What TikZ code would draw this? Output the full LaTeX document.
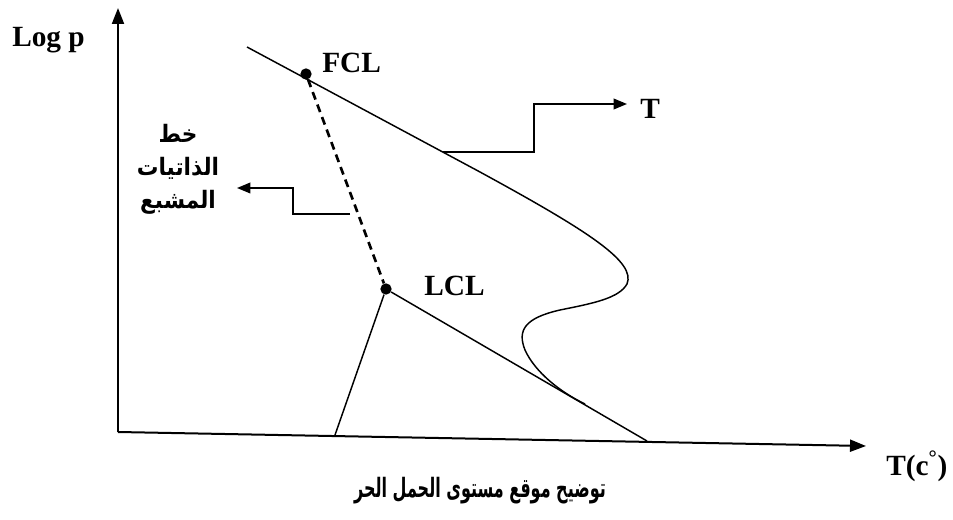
\documentclass[tikz,border=0pt]{standalone}
\usepackage{fontspec}
\setmainfont{Liberation Serif}
\newfontfamily\arabicfont[Script=Arabic]{DejaVu Sans}
\TeXXeTstate=1
\usetikzlibrary{arrows.meta}
\begin{document}
\begin{tikzpicture}[x=0.75pt,y=-0.75pt,
  axis/.style={line width=1.5pt,-{Triangle[length=12pt,width=9pt]}},
  curve/.style={line width=1.1pt},
  conn/.style={line width=1.1pt,-{Triangle[length=10pt,width=8pt]}},
  dot/.style={circle,fill=black,inner sep=0pt,minimum size=8.5pt},
  lbl/.style={font=\bfseries\fontsize{22}{24}\selectfont,inner sep=0pt},
  ar/.style={font=\arabicfont\bfseries\fontsize{18}{20}\selectfont,inner sep=0pt},
  arcap/.style={font=\arabicfont\bfseries\fontsize{20}{22}\selectfont,inner sep=0pt}]
\useasboundingbox (0,0) rectangle (953,520);
% axes
\coordinate (O) at (118,432);
\coordinate (ytop) at (118,8);
\coordinate (xend) at (866,446);
\draw[axis] (O) -- (ytop);
\draw[axis] (O) -- (xend);
\node[lbl,anchor=base west] (logp) at (12,47) {Log p};
\node[lbl,anchor=base west] (tc) at (886,475) {T(c\textsuperscript{°})};
% points
\node[dot] (fcl) at (306,74) {};
\node[dot] (lcl) at (386,289) {};
\node[lbl,anchor=west] (fcltxt) at (322,63) {FCL};
\node[lbl,anchor=west] (lcltxt) at (424,286) {LCL};
% lines from LCL
\coordinate (xa) at (335,435);
\coordinate (xb) at (647,441);
\draw[curve] (lcl) -- (xa);
\draw[curve] (lcl) -- (xb);
% dashed saturated line
\draw[line width=2pt,dash pattern=on 6pt off 4pt] (fcl) -- (lcl);
% upper curve
\coordinate (cstart) at (247,47);
\coordinate (cend) at (585,404);
\draw[curve] (cstart) -- (480,172) .. controls (590,232) and (636,262) .. (627,284)
  .. controls (619,298) and (595,303) .. (560,310)
  .. controls (525,318) and (517,330) .. (525,350)
  .. controls (535,372) and (560,392) .. (cend);
% T arrow
\coordinate (tstart) at (443,152);
\coordinate (tend) at (627,104);
\node[lbl,anchor=base west] (ttxt) at (640,119) {T};
\draw[conn] (tstart) -- (534,152) -- (534,104) -- (tend);
% left arrow
\coordinate (dstart) at (350,214);
\coordinate (dend) at (237,188);
\draw[conn] (dstart) -- (293,214) -- (293,188) -- (dend);
% arabic labels
\node[ar] (a1) at (178,133) {\scalebox{0.9}[1]{\beginR خط\endR}};
\node[ar] (a2) at (178,168) {\scalebox{0.9}[1]{\beginR الذاتيات\endR}};
\node[ar] (a3) at (178,202) {\scalebox{0.9}[1]{\beginR المشبع\endR}};
\node[arcap] (cap) at (480,491) {\scalebox{0.6}[1]{\beginR توضيح موقع مستوى الحمل الحر\endR}};
\end{tikzpicture}
\end{document}
